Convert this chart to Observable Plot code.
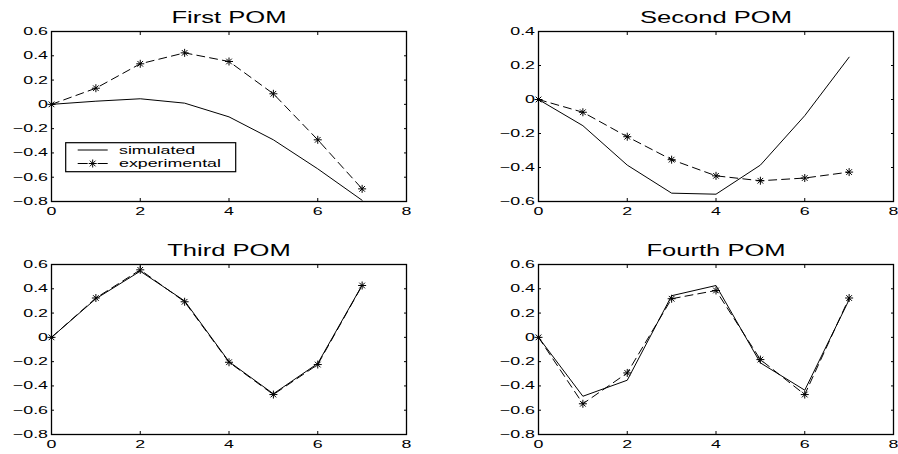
<!DOCTYPE html>
<html><head><meta charset="utf-8">
<script src="https://cdn.jsdelivr.net/npm/d3@7"></script>
<script src="https://cdn.jsdelivr.net/npm/@observablehq/plot@0.6"></script>
<style>
html,body{margin:0;padding:0;background:#fff;}
#chart{position:relative;width:898px;height:454px;overflow:hidden;background:#fff;}
#chart svg{position:absolute;}
</style></head><body><div id="chart"></div>
<script>
const steps = [0, 1, 2, 3, 4, 5, 6, 7];
const titles = ["First POM", "Second POM", "Third POM", "Fourth POM"];
const simulated1    = [0, 0.026, 0.046, 0.010, -0.103, -0.292, -0.531, -0.790];
const experimental1 = [0, 0.133, 0.334, 0.424, 0.353, 0.087, -0.292, -0.696];
const simulated2    = [0, -0.154, -0.386, -0.551, -0.557, -0.386, -0.095, 0.249];
const experimental2 = [0, -0.075, -0.219, -0.354, -0.449, -0.478, -0.462, -0.427];
const simulated3    = [0, 0.318, 0.545, 0.300, -0.200, -0.465, -0.215, 0.430];
const experimental3 = [0, 0.324, 0.556, 0.293, -0.205, -0.471, -0.224, 0.427];
const simulated4    = [0, -0.485, -0.353, 0.343, 0.427, -0.210, -0.435, 0.310];
const experimental4 = [0, -0.547, -0.293, 0.318, 0.386, -0.183, -0.471, 0.324];
const xTicks = [0, 2, 4, 6, 8];
const yTicksA = [-0.8, -0.6, -0.4, -0.2, 0, 0.2, 0.4, 0.6];
const yTicksB = [-0.6, -0.4, -0.2, 0, 0.2, 0.4];
const legendLabels = ["simulated", "experimental"];

const series = [
  [simulated1, experimental1, [-0.8, 0.6], yTicksA],
  [simulated2, experimental2, [-0.6, 0.4], yTicksB],
  [simulated3, experimental3, [-0.8, 0.6], yTicksA],
  [simulated4, experimental4, [-0.8, 0.6], yTicksA]
];
const layout = [
  {left: 0,   top: 0,   mL: 51, mR: 43, mT: 31, mB: 26},
  {left: 449, top: 0,   mL: 89, mR: 5,  mT: 31, mB: 26},
  {left: 0,   top: 227, mL: 51, mR: 43, mT: 37, mB: 20},
  {left: 449, top: 227, mL: 89, mR: 5,  mT: 37, mB: 20}
];

// MATLAB-like 8-armed asterisk
const star8 = {
  draw(ctx, size) {
    const r = Math.sqrt(size / Math.PI), d = r * Math.SQRT1_2;
    ctx.moveTo(-r, 0); ctx.lineTo(r, 0);
    ctx.moveTo(0, -r); ctx.lineTo(0, r);
    ctx.moveTo(-d, -d); ctx.lineTo(d, d);
    ctx.moveTo(-d, d); ctx.lineTo(d, -d);
  }
};

const fmt = d => d === 0 ? "0" : d3.format(".1f")(d).replace("-", "\u2212");
const FONT = "'Liberation Sans', Arial, Helvetica, sans-serif";

// widen glyphs horizontally around each text's own anchor point
function stretch(nodes, k) {
  nodes.forEach(t => {
    const tr = t.getAttribute("transform") || "";
    t.setAttribute("transform", `${tr} scale(${k},1)`);
  });
}

const chart = document.getElementById("chart");
series.forEach(([sim, exp, yDomain, yTicks], i) => {
  const L = layout[i];
  const data = steps.map((s, j) => ({step: s, sim: sim[j], exp: exp[j]}));
  const svg = Plot.plot({
    width: 449, height: 227,
    marginLeft: L.mL, marginRight: L.mR, marginTop: L.mT, marginBottom: L.mB,
    style: {fontFamily: FONT, fontSize: "11px", color: "#000", background: "transparent", overflow: "visible"},
    x: {domain: [0, 8]},
    y: {domain: yDomain},
    marks: [
      Plot.line(data, {x: "step", y: "sim", stroke: "#000", strokeWidth: 1}),
      Plot.line(data, {x: "step", y: "exp", stroke: "#000", strokeWidth: 1, strokeDasharray: "8,5"}),
      Plot.dot(data, {x: "step", y: "exp", symbol: star8, r: 4, stroke: "#000", strokeWidth: 1}),
      Plot.axisX({anchor: "bottom", ticks: xTicks, tickSize: -3, tickPadding: 9, tickFormat: d => String(d), label: null}),
      Plot.axisX({anchor: "top", ticks: xTicks, tickSize: -3, tickFormat: () => "", label: null}),
      Plot.axisY({anchor: "left", ticks: yTicks, tickSize: -3, tickPadding: 6.5, tickFormat: fmt, label: null}),
      Plot.axisY({anchor: "right", ticks: yTicks, tickSize: -3, tickFormat: () => "", label: null}),
      Plot.frame({stroke: "#000", strokeWidth: 1.3}),
      Plot.text([titles[i]], {text: d => d, frameAnchor: "top", lineAnchor: "bottom", dy: -9, fontSize: 16.5, fill: "#000"})
    ]
  });
  svg.style.left = L.left + "px";
  svg.style.top = L.top + "px";
  const titleNodes = Array.from(svg.querySelectorAll('g[aria-label="text"] text'));
  const otherNodes = Array.from(svg.querySelectorAll("text")).filter(t => !titleNodes.includes(t));
  stretch(titleNodes, 1.55);
  stretch(otherNodes, 1.62);
  chart.appendChild(svg);
});

// Legend (inside First POM)
const lg = d3.select(chart).append("svg")
  .attr("width", 173).attr("height", 32)
  .style("left", "65px").style("top", "142px");
lg.append("rect").attr("x", 0.7).attr("y", 0.7).attr("width", 170).attr("height", 29)
  .attr("fill", "#fff").attr("stroke", "#000").attr("stroke-width", 1.2);
const rows = [8, 21.5];
lg.append("line").attr("x1", 12.7).attr("x2", 42.7).attr("y1", rows[0]).attr("y2", rows[0])
  .attr("stroke", "#000").attr("stroke-width", 1);
lg.append("line").attr("x1", 12.7).attr("x2", 42.7).attr("y1", rows[1]).attr("y2", rows[1])
  .attr("stroke", "#000").attr("stroke-width", 1).attr("stroke-dasharray", "10,10");
const sp = d3.path(); star8.draw(sp, Math.PI * 16);
lg.append("path").attr("d", sp.toString()).attr("transform", `translate(27.7,${rows[1]})`)
  .attr("fill", "none").attr("stroke", "#000").attr("stroke-width", 1);
legendLabels.forEach((lab, k) => {
  lg.append("text").attr("transform", `translate(54,${rows[k]}) scale(1.62,1)`)
    .attr("dy", "0.35em").attr("font-family", FONT).attr("font-size", 11).attr("fill", "#000").text(lab);
});
</script>
</body></html>
